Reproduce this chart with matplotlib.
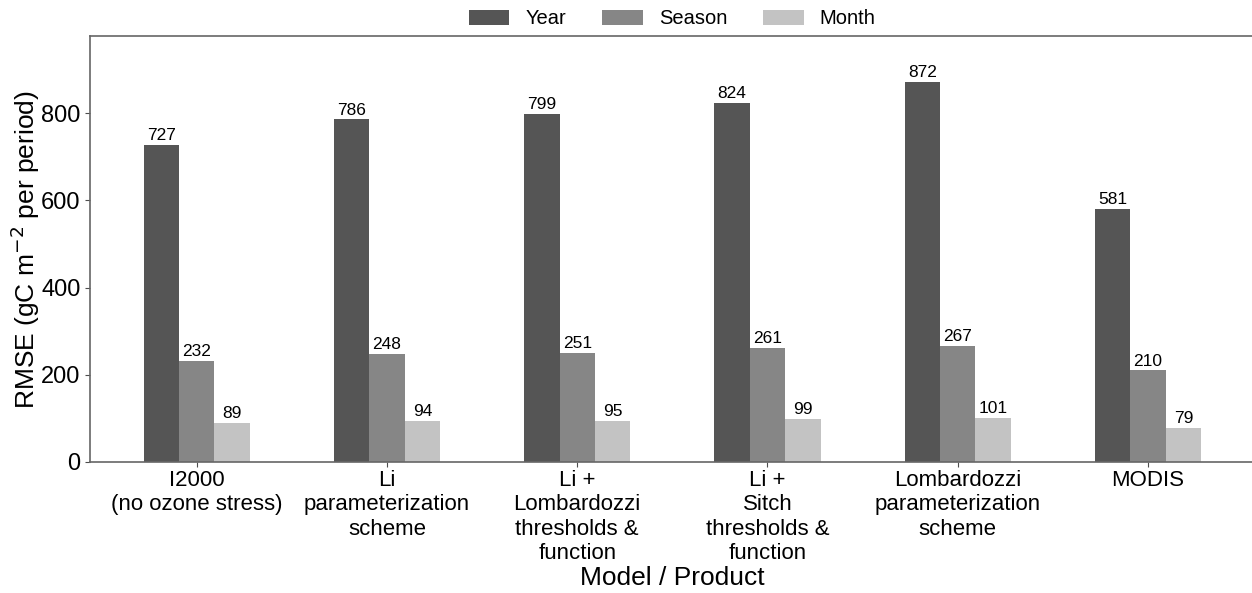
import numpy as np
import matplotlib.pyplot as plt

plt.rcParams['font.family'] = ['Liberation Sans', 'DejaVu Sans']

models = [
    "I2000\n(no ozone stress)",
    "Li\nparameterization\nscheme",
    "Li +\nLombardozzi\nthresholds &\nfunction",
    "Li +\nSitch\nthresholds &\nfunction",
    "Lombardozzi\nparameterization\nscheme",
    "MODIS",
]
periods = ["Year", "Season", "Month"]
year = [727, 786, 799, 824, 872, 581]
season = [232, 248, 251, 261, 267, 210]
month = [89, 94, 95, 99, 101, 79]

colors = ["#555555", "#868686", "#c3c3c3"]
width = 0.186

fig = plt.figure(figsize=(12.52, 5.93), dpi=100)
ax = fig.add_axes([0.072, 0.221, 0.93, 0.718])

x = np.arange(len(models))
for i, (vals, name) in enumerate(zip([year, season, month], periods)):
    bars = ax.bar(x + (i - 1) * width, vals, width, color=colors[i], label=name)
    for b, v in zip(bars, vals):
        ax.text(b.get_x() + b.get_width() / 2, v + 4, str(v),
                ha="center", va="bottom", fontsize=12.5)

ax.set_xticks(x)
ax.set_xticklabels(models, fontsize=16, linespacing=1.22)
ax.set_xlim(-0.56, 5.56)
ax.set_ylim(0, 977)
ax.set_yticks([0, 200, 400, 600, 800])
ax.tick_params(axis="y", labelsize=17)
ax.tick_params(axis="x", pad=2)
ax.set_ylabel("RMSE (gC m$^{-2}$ per period)", fontsize=19, labelpad=-1)
ax.set_xlabel("Model / Product", fontsize=19, labelpad=1)

for s in ["left", "bottom", "top"]:
    ax.spines[s].set_color("0.4")
    ax.spines[s].set_linewidth(1.2)
ax.spines["right"].set_visible(False)
ax.tick_params(colors="0.3", labelcolor="black")

ax.legend(loc="lower center", bbox_to_anchor=(0.5, 0.995), ncol=3, frameon=False,
          fontsize=14.5, handlelength=2.0, handleheight=0.8, columnspacing=1.8,
          handletextpad=0.8, borderaxespad=0.1)

fig.savefig("out.png", dpi=100)
